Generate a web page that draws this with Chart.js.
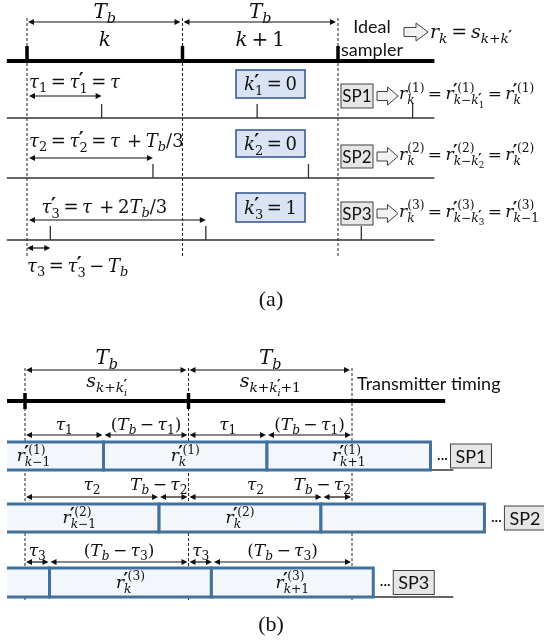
<!DOCTYPE html>
<html>
<head>
<meta charset="utf-8">
<script src="https://cdn.jsdelivr.net/npm/chart.js@4/dist/chart.umd.min.js"></script>
<style>
  html, body { margin: 0; padding: 0; background: #fff; }
  #wrap { position: relative; width: 544px; height: 643px; }
</style>
</head>
<body>
<div id="wrap"><canvas id="timing"></canvas></div>
<script>
// ---- data, all times in units of T_b ----
// (a) sampler delays
const symbolBounds = [0, 1, 2];
const symbolLabels = ['k', 'k + 1'];
const samplerNames = ['SP1', 'SP2', 'SP3'];
const samplerDelay = [0.48, 0.81, 1.15];          // tau'_i
const kPrime = [0, 0, 1];
const sampleTicks = [[0.48, 1.48, 2.48], [0.81, 1.81], [0.15, 1.15, 2.15]];
const delayLabels = ['τ_1 = τ^{′}_1 = τ', 'τ_2 = τ^{′}_2 = τ  + T_b/3', 'τ^{′}_3 = τ  + 2T_b/3'];
const wrapDelay = 0.15;                             // tau_3
const wrapLabel = 'τ_3 = τ^{′}_3 − T_b';
const samplerEqs = [
  'r^{(1)}_k = r^{′(1)}_{k−k^{′}_1} = r^{′(1)}_k',
  'r^{(2)}_k = r^{′(2)}_{k−k^{′}_2} = r^{′(2)}_k',
  'r^{(3)}_k = r^{′(3)}_{k−k^{′}_3} = r^{′(3)}_{k−1}'
];
const idealEq = 'r_k = s_{k+k^{′}}';

// (b) transmitter timing vs sampler windows
const txLabels = ['s_{k+k^{′}_i}', 's_{k+k^{′}_i+1}'];
const tauB = [0.48, 0.82, 0.15];
const cellEnds = [[0.48, 1.48, 2.48], [0.82, 1.81, 2.81], [0.15, 1.14, 2.13]];
const cellLabels = [
  ['r^{′(1)}_{k−1}', 'r^{′(1)}_k', 'r^{′(1)}_{k+1}'],
  ['r^{′(2)}_{k−1}', 'r^{′(2)}_k', ''],
  ['', 'r^{′(3)}_k', 'r^{′(3)}_{k+1}']
];
const segLabels = [
  ['τ_1', '(T_b − τ_1)', 'τ_1', '(T_b − τ_1)'],
  ['τ_2', 'T_b − τ_2', 'τ_2', 'T_b − τ_2'],
  ['τ_3', '(T_b − τ_3)', 'τ_3', '(T_b − τ_3)']
];

// ---- layout (pixels) ----
const MATH = '"DejaVu Serif", "Liberation Serif", serif';
const SANS = 'Lato, "Open Sans", sans-serif';
const LA = { tbY: 22, tbText: 18, kText: 46, lineY: 61, lineFrom: -0.13, lineTo: 2.62,
  rowY: [118, 178, 240], tickH: 14, dashTop: 18, dashBot: 258,
  labelY: [88, 147, 213], arrowY: [96, 158, 220], wrapArrowY: 248, wrapText: 272,
  kBox: [1.344, 1.788], kBoxY: [[70, 98], [130, 157], [193, 222]],
  spX: 341, spW: 32, spY: [[84, 108], [145, 168], [202, 225]] };
const LB = { tbY: 370, tbText: 364, sText: 387, lineY: 401, lineFrom: -0.11, lineTo: 2.57,
  dashTop: 368, dashBot: 600, cropX: 7, tailTo: 2.62,
  segY: [435, 497, 562], segText: [430, 490, 556],
  boxY: [[442, 470], [504, 532], [568, 597]], tail: [true, false, true] };

// ---- tiny math text renderer ----
function parseMath(s) {
  let i = 0;
  function group() {
    const nodes = [];
    while (i < s.length) {
      const c = s[i];
      if (c === '}') { i++; return nodes; }
      if (c === '^' || c === '_') {
        i++;
        let arg;
        if (s[i] === '{') { i++; arg = group(); } else { arg = [{ c: s[i] }]; i++; }
        let prev = nodes.pop() || { c: '' };
        if (!prev.base) prev = { base: [prev] };
        if (c === '^') prev.sup = arg; else prev.sub = arg;
        nodes.push(prev);
        continue;
      }
      if (c === '{') { i++; nodes.push({ base: group() }); continue; }
      nodes.push({ c: c });
      i++;
    }
    return nodes;
  }
  return group();
}

function runMath(ctx, nodes, x, y, size, draw) {
  let w = 0;
  for (const n of nodes) {
    if (n.base) {
      w += runMath(ctx, n.base, x + w, y, size, draw);
      const ss = Math.max(size * 0.72, 8);
      let sw = 0;
      if (n.sup) sw = Math.max(sw, runMath(ctx, n.sup, x + w, y - size * 0.42, ss, draw));
      if (n.sub) sw = Math.max(sw, runMath(ctx, n.sub, x + w, y + size * (n.sup ? 0.3 : 0.24), ss, draw));
      w += sw;
    } else if (n.c === ' ') {
      w += size * 0.2;
    } else if (n.c === '′') {
      // primes drawn larger than the script size, as in the original
      ctx.font = 'bold ' + (size * 1.45) + 'px ' + MATH;
      if (draw) ctx.fillText('′', x + w - size * 0.05, y + size * 0.42);
      w += ctx.measureText('′').width * 0.75;
    } else {
      const ital = /[A-Za-zα-ω]/.test(n.c);
      ctx.font = (ital ? 'italic ' : '') + size + 'px ' + MATH;
      if (draw) ctx.fillText(n.c, x + w, y);
      w += ctx.measureText(n.c).width;
    }
  }
  return w;
}

function drawMath(ctx, s, x, y, size, align) {
  const nodes = parseMath(s);
  const w = runMath(ctx, nodes, 0, 0, size, false);
  const x0 = align === 'center' ? x - w / 2 : align === 'right' ? x - w : x;
  ctx.textAlign = 'left';
  ctx.textBaseline = 'alphabetic';
  ctx.fillStyle = '#111';
  runMath(ctx, nodes, x0, y, size, true);
}

function sans(ctx, s, x, y, size, align) {
  ctx.font = size + 'px ' + SANS;
  ctx.fillStyle = '#111';
  ctx.textAlign = align || 'left';
  ctx.textBaseline = 'middle';
  ctx.fillText(s, x, y);
}

function dblArrow(ctx, x1, x2, y) {
  const h = 6;
  ctx.strokeStyle = ctx.fillStyle = '#111';
  ctx.lineWidth = 1.2;
  ctx.beginPath(); ctx.moveTo(x1 + 3, y); ctx.lineTo(x2 - 3, y); ctx.stroke();
  ctx.beginPath(); ctx.moveTo(x1, y); ctx.lineTo(x1 + h, y - 3); ctx.lineTo(x1 + h, y + 3); ctx.fill();
  ctx.beginPath(); ctx.moveTo(x2, y); ctx.lineTo(x2 - h, y - 3); ctx.lineTo(x2 - h, y + 3); ctx.fill();
}

function hollowArrow(ctx, x, yc, w, h) {
  const sh = h * 0.5, neck = x + w * 0.5;
  ctx.beginPath();
  ctx.moveTo(x, yc - sh / 2); ctx.lineTo(neck, yc - sh / 2); ctx.lineTo(neck, yc - h / 2);
  ctx.lineTo(x + w, yc); ctx.lineTo(neck, yc + h / 2); ctx.lineTo(neck, yc + sh / 2);
  ctx.lineTo(x, yc + sh / 2); ctx.closePath();
  ctx.fillStyle = '#f2f2f2'; ctx.fill();
  ctx.strokeStyle = '#404040'; ctx.lineWidth = 1; ctx.stroke();
}

function box(ctx, x1, y1, x2, y2, fill, stroke, lw) {
  ctx.fillStyle = fill; ctx.fillRect(x1, y1, x2 - x1, y2 - y1);
  ctx.strokeStyle = stroke; ctx.lineWidth = lw; ctx.strokeRect(x1, y1, x2 - x1, y2 - y1);
}

// ---- line work as datasets ----
const datasets = [];
function seg(axis, t1, y1, t2, y2, width, color, dash) {
  datasets.push({
    data: [{ x: t1, y: y1 }, { x: t2, y: y2 }],
    xAxisID: axis, yAxisID: 'y', showLine: true,
    borderColor: color || '#222', borderWidth: width, borderDash: dash || [],
    borderCapStyle: 'butt', pointRadius: 0, clip: false
  });
}

// (a)
seg('xa', LA.lineFrom, LA.lineY, LA.lineTo, LA.lineY, 4, '#000');
symbolBounds.forEach(b => {
  seg('xa', b, LA.lineY - 15, b, LA.lineY, 3.5, '#000');
  seg('xa', b, LA.dashTop, b, LA.dashBot, 1, '#222', [3, 2]);
});
LA.rowY.forEach((yy, r) => {
  seg('xa', LA.lineFrom, yy, LA.lineTo, yy, 1.3, '#333');
  sampleTicks[r].forEach(t => seg('xa', t, yy - LA.tickH, t, yy, 1.3, '#333'));
});
// (b)
seg('xb', LB.lineFrom, LB.lineY, LB.lineTo, LB.lineY, 4, '#000');
symbolBounds.forEach((b, i) => {
  if (i < 2) seg('xb', b, LB.lineY - 8, b, LB.lineY + 8, 3.5, '#000');
  seg('xb', b, LB.dashTop, b, LB.dashBot, 1, '#222', [3, 2]);
});
LB.boxY.forEach((yy, r) => {
  if (LB.tail[r]) seg('xb', LB.lineFrom, yy[1], LB.tailTo, yy[1], 1.3, '#333');
});

const diagram = {
  id: 'diagram',
  afterDatasetsDraw(chart) {
    const ctx = chart.ctx;
    const pa = t => chart.scales.xa.getPixelForValue(t);
    const pb = t => chart.scales.xb.getPixelForValue(t);
    const py = v => chart.scales.y.getPixelForValue(v);
    ctx.save();

    // ===== (a) =====
    for (let i = 0; i < 2; i++) {
      const x1 = pa(symbolBounds[i]), x2 = pa(symbolBounds[i + 1]);
      dblArrow(ctx, x1 + 1, x2 - 2, py(LA.tbY));
      drawMath(ctx, 'T_b', (x1 + x2) / 2, py(LA.tbText), 20, 'center');
      drawMath(ctx, symbolLabels[i], (x1 + x2) / 2, py(LA.kText), 20, 'center');
    }
    sans(ctx, 'Ideal', 372, py(27), 18, 'center');
    sans(ctx, 'sampler', 341, py(50), 18, 'left');
    hollowArrow(ctx, 404, py(32), 24, 18);
    drawMath(ctx, idealEq, 430, py(38), 19, 'left');

    for (let r = 0; r < 3; r++) {
      const x0 = pa(0);
      drawMath(ctx, delayLabels[r], r === 2 ? (x0 + pa(samplerDelay[r])) / 2 - 12 : x0 + 2, py(LA.labelY[r]), 18, r === 2 ? 'center' : 'left');
      dblArrow(ctx, x0 + 2, pa(samplerDelay[r]), py(LA.arrowY[r]));
      // k' box
      const kb = LA.kBoxY[r];
      box(ctx, pa(LA.kBox[0]), py(kb[0]), pa(LA.kBox[1]), py(kb[1]), '#dae3f3', '#2f528f', 1.5);
      drawMath(ctx, 'k^{′}_' + (r + 1) + ' = ' + kPrime[r], pa((LA.kBox[0] + LA.kBox[1]) / 2), py((kb[0] + kb[1]) / 2 + 6), 18, 'center');
      // sampler box + equation
      const sb = LA.spY[r], yc = py((sb[0] + sb[1]) / 2);
      box(ctx, LA.spX, py(sb[0]), LA.spX + LA.spW, py(sb[1]), '#e7e6e6', '#404040', 1);
      sans(ctx, samplerNames[r], LA.spX + LA.spW / 2, yc + 1, 17, 'center');
      hollowArrow(ctx, 377, yc, 21, 18);
      drawMath(ctx, samplerEqs[r], 399, yc + 3, 17, 'left');
    }
    dblArrow(ctx, pa(0), pa(wrapDelay), py(LA.wrapArrowY));
    drawMath(ctx, wrapLabel, pa(0), py(LA.wrapText), 18, 'left');
    ctx.font = '22px "Liberation Serif", serif';
    ctx.fillStyle = '#111'; ctx.textAlign = 'center'; ctx.textBaseline = 'middle';
    ctx.fillText('(a)', 271, py(300));

    // ===== (b) =====
    for (let i = 0; i < 2; i++) {
      const x1 = pb(symbolBounds[i]), x2 = pb(symbolBounds[i + 1]);
      dblArrow(ctx, x1 + 1, x2 - 2, py(LB.tbY));
      drawMath(ctx, 'T_b', (x1 + x2) / 2, py(LB.tbText), 20, 'center');
      drawMath(ctx, txLabels[i], (x1 + x2) / 2, py(LB.sText), 19, 'center');
    }
    sans(ctx, 'Transmitter timing', pb(symbolBounds[2]) + 5, py(384), 18, 'left');

    for (let r = 0; r < 3; r++) {
      const tau = tauB[r];
      const segs = [[0, tau], [tau, 1], [1, 1 + tau], [1 + tau, 2]];
      segs.forEach((s, j) => {
        const x1 = pb(s[0]), x2 = pb(s[1]);
        dblArrow(ctx, x1 + 1, x2 - 1, py(LB.segY[r]));
        const narrow = x2 - x1 < 40 && r === 1;
        drawMath(ctx, segLabels[r][j], narrow ? x2 - 1 : (x1 + x2) / 2, py(LB.segText[r]), 17, narrow ? 'right' : 'center');
      });
      // sampler windows (first window starts off the left edge)
      const ends = cellEnds[r], by = LB.boxY[r];
      ctx.save();
      ctx.beginPath(); ctx.rect(LB.cropX, 0, 544, 643); ctx.clip();
      ends.forEach((e, j) => {
        const s = j === 0 ? e - 1 : ends[j - 1];
        box(ctx, pb(s), py(by[0]), pb(e), py(by[1]), '#f3f7fc', '#41719c', 3);
      });
      ctx.restore();
      ends.forEach((e, j) => {
        if (!cellLabels[r][j]) return;
        let xc;
        if (j === 0) {
          const visible = (Math.max(pb(e - 1), LB.cropX) + pb(e)) / 2;
          xc = 0.35 * visible + 0.65 * pb(e - 0.5);
        } else {
          xc = pb((ends[j - 1] + e) / 2);
        }
        drawMath(ctx, cellLabels[r][j], xc, py((by[0] + by[1]) / 2 + 5), 17, 'center');
      });
      // dots + SP label
      const xe = pb(ends[ends.length - 1]);
      const yc = py((by[0] + by[1]) / 2);
      sans(ctx, '···', xe + 12, yc + 2, 14, 'center');
      box(ctx, xe + 20, yc - 12, xe + 61, yc + 12, '#e7e6e6', '#404040', 1);
      sans(ctx, samplerNames[r], xe + 40.5, yc + 1, 18, 'center');
    }
    ctx.font = '22px "Liberation Serif", serif';
    ctx.fillStyle = '#111'; ctx.textAlign = 'center'; ctx.textBaseline = 'middle';
    ctx.fillText('(b)', 271, py(625));
    ctx.restore();
  }
};

// x scales: (a) T_b = 155.5 px starting at 27 px; (b) T_b = 163.5 px starting at 25 px
new Chart(document.getElementById('timing'), {
  type: 'scatter',
  data: { datasets: datasets },
  options: {
    responsive: true,
    maintainAspectRatio: false,
    animation: false,
    events: [],
    layout: { padding: 0 },
    plugins: { legend: { display: false }, tooltip: { enabled: false } },
    scales: {
      xa: { type: 'linear', display: false, min: -27 / 155.5, max: (544 - 27) / 155.5 },
      xb: { type: 'linear', display: false, min: -25 / 163.5, max: (544 - 25) / 163.5 },
      y: { type: 'linear', display: false, reverse: true, min: 0, max: 643 }
    }
  },
  plugins: [diagram]
});
</script>
</body>
</html>
